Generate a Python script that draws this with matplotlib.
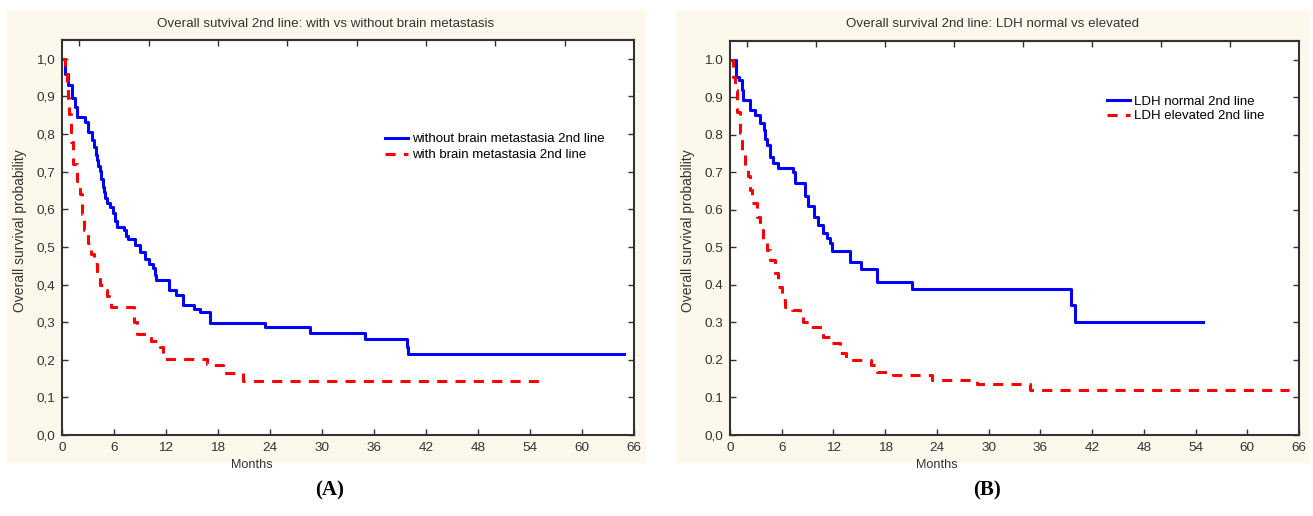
import matplotlib
matplotlib.use("Agg")
import matplotlib.pyplot as plt
from matplotlib.patches import Rectangle

plt.rcParams['font.family'] = ['Liberation Sans', 'DejaVu Sans']

# ---- panel A: brain metastasis ----
a_title = "Overall sutvival 2nd line: with vs without brain metastasis"
a_lab_blue = "without brain metastasia 2nd line"
a_lab_red = "with brain metastasia 2nd line"
a_blue_t = [0, 0.35, 0.73, 1.1, 1.5, 1.7, 2.65, 3.0, 3.5, 3.7, 3.9, 4.0, 4.2, 4.4, 4.55,
            4.7, 4.8, 5.0, 5.2, 5.5, 5.9, 6.1, 6.3, 7.1, 7.4, 7.65, 8.4, 9.0, 9.6, 10.0,
            10.5, 10.7, 10.9, 12.3, 13.2, 14.0, 15.2, 15.9, 17.1, 23.4, 28.6, 35.0, 39.8,
            39.9, 64.8]
a_blue_s = [1.0, 0.96, 0.93, 0.897, 0.871, 0.844, 0.831, 0.805, 0.785, 0.765, 0.745, 0.73,
            0.715, 0.703, 0.68, 0.66, 0.645, 0.63, 0.617, 0.605, 0.59, 0.57, 0.553, 0.544,
            0.53, 0.52, 0.504, 0.486, 0.469, 0.455, 0.443, 0.425, 0.411, 0.385, 0.371, 0.345,
            0.336, 0.327, 0.298, 0.286, 0.272, 0.256, 0.234, 0.215, 0.215]
a_red_t = [0, 0.3, 0.54, 0.73, 0.85, 1.0, 1.3, 1.77, 2.08, 2.27, 2.57, 3.0, 3.4, 3.7, 4.0,
           4.4, 4.8, 5.15, 5.4, 5.7, 8.3, 8.6, 10.3, 11.3, 11.7, 16.7, 17.2, 18.6, 20.9, 55.0]
a_red_s = [1.0, 0.96, 0.94, 0.897, 0.853, 0.78, 0.72, 0.676, 0.64, 0.588, 0.544, 0.51, 0.48,
           0.455, 0.43, 0.40, 0.385, 0.37, 0.355, 0.34, 0.30, 0.268, 0.25, 0.234, 0.203,
           0.19, 0.185, 0.164, 0.143, 0.143]
a_yticklabels = ["0,0", "0,1", "0,2", "0,3", "0,4", "0,5", "0,6", "0,7", "0,8", "0,9", "1,0"]

# ---- panel B: LDH ----
b_title = "Overall survival 2nd line: LDH normal vs elevated"
b_lab_blue = "LDH normal 2nd line"
b_lab_red = "LDH elevated 2nd line"
b_blue_t = [0, 0.7, 1.08, 1.35, 1.55, 2.3, 2.9, 3.5, 3.9, 4.1, 4.25, 4.6, 5.0, 5.6, 7.3,
            7.5, 8.7, 9.1, 9.7, 10.25, 10.8, 11.2, 11.6, 11.8, 13.9, 15.2, 17.0, 21.1,
            39.6, 40.0, 54.9]
b_blue_s = [1.0, 0.955, 0.947, 0.92, 0.893, 0.867, 0.853, 0.831, 0.813, 0.79, 0.773, 0.742,
            0.724, 0.711, 0.70, 0.671, 0.636, 0.609, 0.582, 0.56, 0.538, 0.525, 0.511, 0.491,
            0.46, 0.442, 0.409, 0.389, 0.347, 0.302, 0.302]
b_red_t = [0, 0.4, 0.58, 0.85, 1.16, 1.36, 1.74, 2.1, 2.3, 2.5, 3.1, 3.5, 3.86, 4.25, 4.6,
           5.2, 5.6, 6.0, 6.4, 7.16, 8.1, 8.5, 9.3, 10.8, 11.8, 12.8, 13.5, 16.4, 17.0,
           18.95, 23.4, 28.6, 34.8, 64.8]
b_red_s = [1.0, 0.955, 0.92, 0.86, 0.805, 0.76, 0.707, 0.689, 0.653, 0.618, 0.582, 0.547,
           0.511, 0.493, 0.467, 0.431, 0.395, 0.36, 0.342, 0.333, 0.32, 0.302, 0.289, 0.262,
           0.244, 0.218, 0.2, 0.187, 0.169, 0.16, 0.147, 0.136, 0.12, 0.12]
b_yticklabels = ["0,0", "0.1", "0.2", "0.3", "0.4", "0.5", "0.6", "0.7", "0.8", "0.9", "1.0"]

xticks = list(range(0, 67, 6))
top_ticks = list(range(2, 60, 8))
yticks = [i / 10 for i in range(11)]

W, H = 1313, 516
fig = plt.figure(figsize=(W / 100, H / 100), dpi=100)
fig.patch.set_facecolor("white")

cream = "#fcf8ec"
ink = "#333333"


def px(x, y):
    return x / W, 1 - y / H


def panel(box, axpos, title, title_x, ylab_x, months_x, bt, bs, rt, rs, lb, lr, ylabels,
          leg_anchor, leg_space, tag, tag_x):
    x0, y0, x1, y1 = box
    fig.patches.append(Rectangle((x0 / W, 1 - y1 / H), (x1 - x0) / W, (y1 - y0) / H,
                                 transform=fig.transFigure, facecolor=cream,
                                 edgecolor="none", zorder=-5))
    l, t, r, b = axpos
    ax = fig.add_axes([l / W, 1 - b / H, (r - l) / W, (b - t) / H])
    ax.set_zorder(2)
    ax.set_facecolor("white")
    ax.step(bt, bs, where="post", color="#0000ff", lw=2.2, label=lb)
    ax.step(rt, rs, where="post", color="#ff0000", lw=2.2, dashes=(3.3, 2.7), label=lr)
    ax.set_xlim(0, 66)
    ax.set_ylim(0, 1.05)
    ax.set_xticks(xticks)
    ax.set_yticks(yticks)
    ax.set_yticklabels(ylabels)
    ax.tick_params(direction="in", length=4, width=1, colors=ink, labelsize=9.7,
                   right=True, pad=5)
    sec = ax.secondary_xaxis("top")
    sec.set_xticks(top_ticks)
    sec.set_xticklabels([])
    sec.tick_params(direction="in", length=4, width=1, colors=ink)
    for s in list(ax.spines.values()) + list(sec.spines.values()):
        s.set_color(ink)
        s.set_linewidth(1.5)
    ax.legend(loc="upper left", bbox_to_anchor=leg_anchor, frameon=False, fontsize=9.5,
              handlelength=1.75, handletextpad=0.3, labelspacing=leg_space, borderpad=0,
              borderaxespad=0)
    fig.text(*px(title_x, 24), title, ha="center", va="center", fontsize=9.6, color=ink)
    fig.text(*px(ylab_x, 231), "Overall survival probability", rotation=90, ha="center",
             va="center", fontsize=10, color=ink)
    fig.text(*px(months_x, 465), "Months", ha="center", va="center", fontsize=9.1, color=ink)
    fig.text(*px(tag_x, 490), tag, ha="center", va="center", fontsize=15,
             fontweight="bold", family=["Liberation Serif", "DejaVu Serif"], color="black")
    return ax


panel((7, 10, 646, 463), (62, 40, 634, 435), a_title, 326, 20, 252,
      a_blue_t, a_blue_s, a_red_t, a_red_s, a_lab_blue, a_lab_red, a_yticklabels,
      (0.565, 0.764), 0.27, "(A)", 330)
panel((676, 10, 1310, 463), (730, 41, 1299, 435), b_title, 993, 688, 937,
      b_blue_t, b_blue_s, b_red_t, b_red_s, b_lab_blue, b_lab_red, b_yticklabels,
      (0.6626, 0.862), 0.2, "(B)", 987)

fig.savefig("out.png", dpi=100, facecolor="white")
